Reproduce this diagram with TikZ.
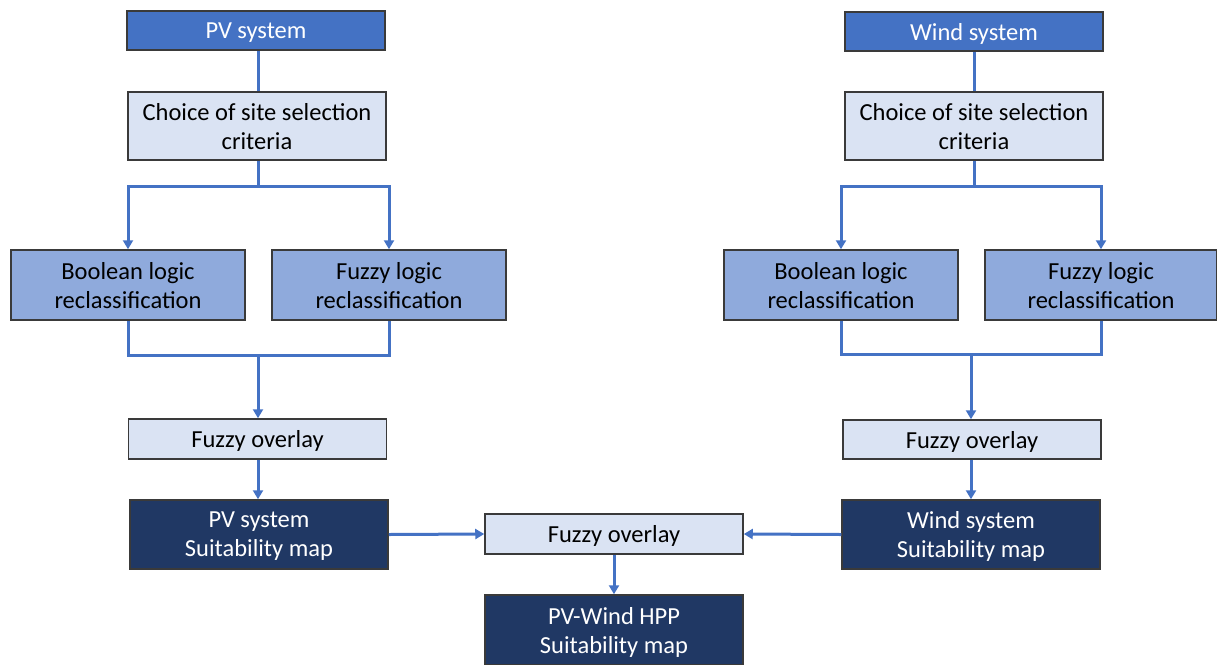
\documentclass[tikz,border=0pt]{standalone}
\usepackage{fontspec}
\setmainfont{Carlito}
\usetikzlibrary{arrows.meta,calc}
\definecolor{headblue}{HTML}{4472C4}
\definecolor{paleblue}{HTML}{DAE3F3}
\definecolor{midblue}{HTML}{8FAADC}
\definecolor{navy}{HTML}{203864}
\definecolor{edgegray}{HTML}{3A3A3A}
\definecolor{linkblue}{HTML}{4472C4}
\begin{document}
\begin{tikzpicture}[x=1pt,y=-1pt,
  box/.style={draw=edgegray,line width=1.5pt,align=center,inner sep=0pt,
    font=\fontsize{24.5}{29}\selectfont,text depth=0pt},
  headbox/.style={box,fill=headblue,text=white,minimum width=258pt,minimum height=39pt},
  palebox/.style={box,fill=paleblue,text=black,minimum width=258pt},
  midbox/.style={box,fill=midblue,text=black,minimum width=234pt,minimum height=70pt},
  darkbox/.style={box,fill=navy,text=white,minimum width=258pt,minimum height=69pt},
  link/.style={draw=linkblue,line width=3pt},
  arr/.style={link,-{Triangle[width=10pt,length=9pt]}}]
\useasboundingbox (0,0) rectangle (1217,664);

% PV branch
\node[headbox] (pv) at (256,30.5) {PV system};
\node[palebox,minimum height=68pt] (choiceL) at (257,126) {Choice of site selection\\criteria};
\node[midbox] (boolL) at (128,285) {Boolean logic\\reclassification};
\node[midbox] (fuzzL) at (389,285) {Fuzzy logic\\reclassification};
\node[palebox,minimum height=40pt] (ovL) at (257.5,439) {Fuzzy overlay};
\node[darkbox] (suitL) at (259,534.5) {PV system\\Suitability map};

% Wind branch
\node[headbox] (wind) at (974,31.5) {Wind system};
\node[palebox,minimum height=68pt] (choiceR) at (974,126) {Choice of site selection\\criteria};
\node[midbox] (boolR) at (841,285) {Boolean logic\\reclassification};
\node[midbox,minimum width=232pt] (fuzzR) at (1101,285) {Fuzzy logic\\reclassification};
\node[palebox,minimum height=39pt] (ovR) at (972,439.5) {Fuzzy overlay};
\node[darkbox] (suitR) at (971,534.5) {Wind system\\Suitability map};

% Combination
\node[palebox,minimum height=40pt] (ovC) at (614,534) {Fuzzy overlay};
\node[darkbox,minimum height=70pt] (hpp) at (614,630) {PV-Wind HPP\\Suitability map};

% split and merge points
\coordinate (sL) at (258,186);
\coordinate (mL) at (258,355);
\coordinate (sR) at (974,186);
\coordinate (mR) at (971,354);

% PV connectors
\draw[link] (pv.south -| sL) -- (choiceL.north -| sL);
\draw[arr] (choiceL.south -| sL) -- (sL) -| (boolL.north);
\draw[arr] (sL) -| (fuzzL.north);
\draw[link] (boolL.south) |- (mL) -| (fuzzL.south);
\draw[arr] (mL) -- (mL |- ovL.north);
\draw[arr] (ovL.south -| mL) -- (suitL.north -| mL);

% Wind connectors
\draw[link] (wind.south -| sR) -- (choiceR.north -| sR);
\draw[arr] (choiceR.south -| sR) -- (sR) -| (boolR.north);
\draw[arr] (sR) -| (fuzzR.north);
\draw[link] (boolR.south) |- (mR) -| (fuzzR.south);
\draw[arr] (mR) -- (mR |- ovR.north);
\draw[arr] (ovR.south -| mR) -- (suitR.north -| mR);

% Combination connectors
\draw[arr] (suitL.east) -- (ovC.west);
\draw[arr] (suitR.west) -- (ovC.east);
\draw[arr] (ovC.south) -- (hpp.north);
\end{tikzpicture}
\end{document}
